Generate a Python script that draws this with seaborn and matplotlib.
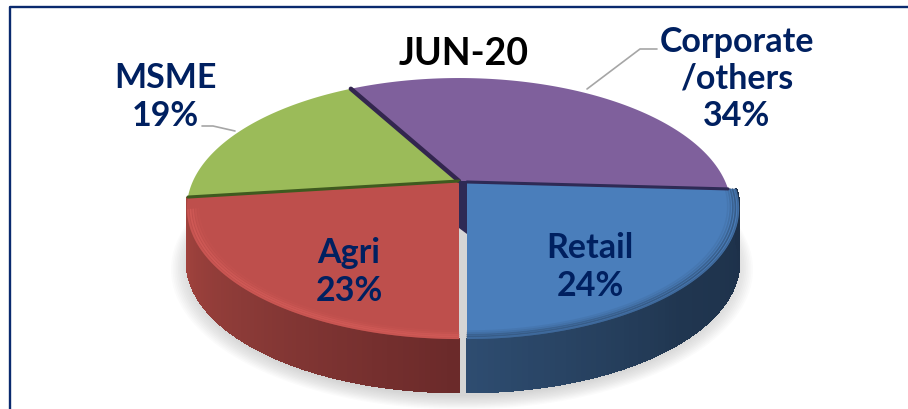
import numpy as np
import matplotlib
matplotlib.use("Agg")
import matplotlib.pyplot as plt
import seaborn as sns

categories = ["Corporate\n/others", "MSME", "Agri", "Retail"]
shares = [34, 19, 23, 24]
top_colors = ["#7F609C", "#9BBB59", "#BE4F4C", "#4A7EBB"]
seam_colors = ["#33264F", "#3F5A1F", None, None]
side_shades = {2: ["#A8453F", "#8A3A37", "#6B2A2A"], 3: ["#2E4C70", "#203650", "#1D3049"]}
rim_colors = {2: "#DE625E", 3: "#28415F"}
title = "JUN-20"
navy = "#002060"

# layout of the tilted pie, in figure pixels
apex_x, apex_y = 459, 182
depth = 53
half_w, half_h, tilt = 266, 124.7, 0.211
retail_shift = 8


def project(theta, r=1.0, dx=0.0):
    # tilted disc with a little perspective, back edge squeezed
    u = r * np.cos(np.radians(theta))
    v = r * np.sin(np.radians(theta))
    w = 1 + tilt * v
    return apex_x + dx + half_w * u / w, apex_y - half_h * v / w


sns.set_style("white")
plt.rcParams["font.family"] = ["Lato", "DejaVu Sans"]
fig, ax = plt.subplots(figsize=(9.08, 4.10), dpi=100)
fig.subplots_adjust(0, 0, 1, 1)

wedges, _ = ax.pie(shares, colors=top_colors, startangle=-3.6, counterclock=True)
ax.set_aspect("auto")
ax.set_xlim(0, 908)
ax.set_ylim(410, 0)
ax.set_axis_off()
for w in wedges:
    w.set_visible(False)

# frame, only top and left are in the crop
ax.plot([9.5, 9.5, 908], [410, 8, 8], color="#0A2A6E", lw=1.7, zorder=1)

# soft shadow under the pie
ring = np.linspace(0, 360, 181)
for i in range(12):
    sx, sy = project(ring, r=1.0 + i * 0.006, dx=3)
    ax.fill(sx, sy + depth + 4, color="#8A8A8A", alpha=0.03, lw=0, zorder=2)

for i, w in enumerate(wedges):
    dx = retail_shift if i == 3 else 0
    arc = np.linspace(w.theta1, w.theta2, 90)
    # outer wall, only the front slices show one
    if i in side_shades:
        front = arc[arc >= 180]
        shades = sns.blend_palette(side_shades[i], len(front) - 1)
        for j in range(len(front) - 1):
            x0, y0 = project(front[j:j + 2], dx=dx)
            ax.fill(np.r_[x0, x0[::-1]], np.r_[y0, y0[::-1] + depth],
                    color=shades[j], lw=1.2, antialiased=False, zorder=3)
    # top face
    x, y = project(arc, dx=dx)
    ax.fill(np.r_[apex_x + dx, x], np.r_[apex_y, y], color=top_colors[i], lw=0, zorder=4)
    # bevel along the front edge
    if i in rim_colors:
        for r, a in [(0.996, 0.35), (0.987, 0.55), (0.978, 0.45), (0.969, 0.22), (0.96, 0.1)]:
            rx, ry = project(arc[arc >= 192], r=r, dx=dx)
            ax.plot(rx, ry, color=rim_colors[i], alpha=a, lw=1.2, zorder=5)

# dark seams between the slices
for w, seam in zip(wedges, seam_colors):
    if seam is None:
        continue
    sx, sy = project(w.theta2)
    ax.plot([apex_x, sx], [apex_y, sy], color=seam, lw=3.2 if seam == "#33264F" else 2.2, zorder=6)
sx, sy = project(wedges[0].theta1)
ax.plot([apex_x + retail_shift, sx], [apex_y + 1, sy], color="#2E2A55", lw=2.2, zorder=6)

# gap where Retail is pulled out, with the inner wall behind it
ax.fill([apex_x, apex_x + retail_shift, apex_x + retail_shift, apex_x],
        [apex_y, apex_y, apex_y + depth, apex_y + depth - 6],
        color="#2E2A55", lw=0, zorder=6)

# leader lines
ax.plot([202, 213, 235], [127, 127, 132], color="#A6A6A6", lw=1.2, zorder=7)
ax.plot([657, 640, 587], [50, 50, 90], color="#A6A6A6", lw=1.2, zorder=7)

label_style = dict(color=navy, fontsize=24.5, fontweight="bold", ha="center", va="center",
                   linespacing=1.2, zorder=8)
ax.text(737, 79, "%s\n%d%%" % (categories[0], shares[0]), **label_style)
ax.text(165, 97, "%s\n%d%%" % (categories[1], shares[1]), **label_style)
ax.text(349, 272, "%s\n%d%%" % (categories[2], shares[2]), **label_style)
ax.text(590, 267, "%s\n%d%%" % (categories[3], shares[3]), **label_style)
ax.text(464, 54, title, color="black", fontsize=27, fontweight="bold", ha="center", va="center", zorder=8)

fig.savefig("out.png", dpi=100)
